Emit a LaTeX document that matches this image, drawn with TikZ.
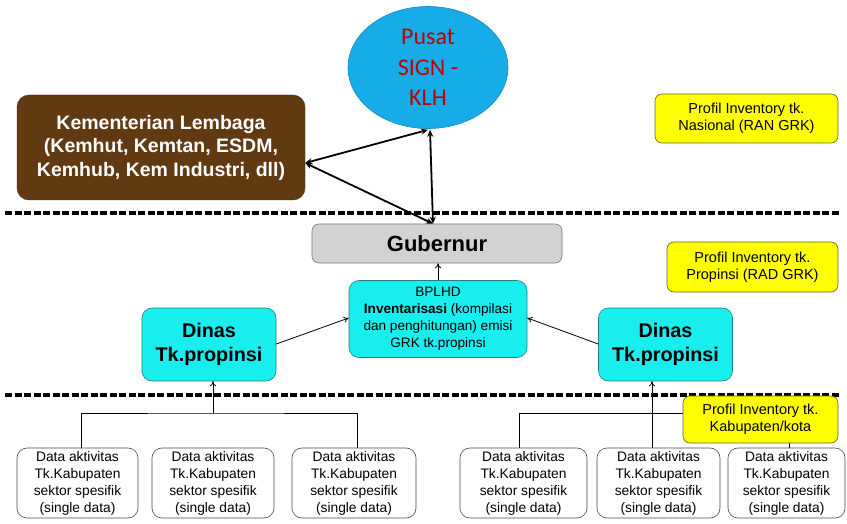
\documentclass[tikz,border=0pt]{standalone}
\usepackage{fontspec}
\setmainfont{Liberation Sans}
\newfontfamily\calibri{Carlito}
\usetikzlibrary{shapes.geometric,arrows.meta}
\definecolor{pusatblue}{RGB}{22,172,232}
\definecolor{pusatred}{RGB}{192,0,0}
\definecolor{kembrown}{RGB}{97,58,18}
\definecolor{cyanfill}{RGB}{24,238,238}
\definecolor{cyanline}{RGB}{40,125,125}
\definecolor{grayfill}{RGB}{210,210,210}
\definecolor{grayline}{RGB}{120,120,120}
\definecolor{yelfill}{RGB}{255,255,0}
\definecolor{yelline}{RGB}{100,100,40}
\begin{document}
\begin{tikzpicture}[x=1pt,y=-1pt,
  every node/.style={inner sep=0pt, align=center},
  pusat/.style={ellipse, fill=pusatblue, draw=pusatblue!80!black, line width=0.6pt, minimum width=160pt, minimum height=122pt, text=pusatred, font=\calibri\fontsize{24}{30.5}\selectfont},
  kembox/.style={rectangle, rounded corners=12pt, fill=kembrown, draw=kembrown!70!black, text=white, font=\bfseries\fontsize{19.5}{23.5}\selectfont},
  gubbox/.style={rectangle, rounded corners=7pt, fill=grayfill, draw=grayline, line width=0.6pt, font=\bfseries\fontsize{22}{26}\selectfont},
  cyanbox/.style={rectangle, rounded corners=10pt, fill=cyanfill, draw=cyanline, line width=0.6pt},
  yelbox/.style={rectangle, rounded corners=7pt, fill=yelfill, draw=yelline, line width=0.6pt, font=\fontsize{14.5}{17}\selectfont},
  databox/.style={rectangle, rounded corners=10pt, fill=white, draw=black!70, line width=0.6pt, minimum height=70pt, font=\fontsize{13.8}{17}\selectfont},
  sep/.style={line width=4.5pt, dash pattern=on 7pt off 2.5pt},
  tri/.style={line width=1.8pt, {Stealth[length=7pt,width=6pt]}-{Stealth[length=7pt,width=6pt]}},
  arr/.style={line width=0.8pt, -{To[length=5pt,width=6pt]}},
  con/.style={line width=0.8pt}
]
\useasboundingbox (0,0) rectangle (847,524);
\fill[white] (0,0) rectangle (847,524);

% separators
\draw[sep] (5,213) -- (840,213);
\draw[sep] (5,395) -- (840,395);

% top level
\node[pusat] (pusat) at (428,67.5) {Pusat\\SIGN -\\KLH};
\node[kembox, minimum width=288pt, minimum height=105pt] (kem) at (161,147.5)
  {Kementerian Lembaga\\(Kemhut, Kemtan, ESDM,\\Kemhub, Kem Industri, dll)};
\node[yelbox, minimum width=183pt, minimum height=49pt] (yel1) at (746.5,118.5)
  {Profil Inventory tk.\\Nasional (RAN GRK)};

% province level
\node[gubbox, minimum width=250pt, minimum height=39pt] (gub) at (437,243.5) {Gubernur};
\node[cyanbox, minimum width=178pt, minimum height=77pt, font=\fontsize{13.6}{17}\selectfont] (bplhd) at (438,319)
  {BPLHD\\\textbf{Inventarisasi} (kompilasi\\dan penghitungan) emisi\\GRK tk.propinsi};
\node[cyanbox, minimum width=134pt, minimum height=73pt, font=\bfseries\fontsize{19.8}{24}\selectfont] (dinasL) at (209,344.5)
  {Dinas\\Tk.propinsi};
\node[cyanbox, minimum width=134pt, minimum height=73pt, font=\bfseries\fontsize{19.8}{24}\selectfont] (dinasR) at (665.5,344.5)
  {Dinas\\Tk.propinsi};
\node[yelbox, minimum width=171pt, minimum height=50pt] (yel2) at (752.5,267)
  {Profil Inventory tk.\\Propinsi (RAD GRK)};

% district level
\node[databox, minimum width=121pt] (d1) at (77.5,483) {Data aktivitas\\Tk.Kabupaten\\sektor spesifik\\(single data)};
\node[databox, minimum width=122pt] (d2) at (213,483) {Data aktivitas\\Tk.Kabupaten\\sektor spesifik\\(single data)};
\node[databox, minimum width=124pt] (d3) at (354,483) {Data aktivitas\\Tk.Kabupaten\\sektor spesifik\\(single data)};
\node[databox, minimum width=127pt] (d4) at (523.5,483) {Data aktivitas\\Tk.Kabupaten\\sektor spesifik\\(single data)};
\node[databox, minimum width=123pt] (d5) at (658.5,483) {Data aktivitas\\Tk.Kabupaten\\sektor spesifik\\(single data)};
\node[databox, minimum width=117pt] (d6) at (786.5,483) {Data aktivitas\\Tk.Kabupaten\\sektor spesifik\\(single data)};

% triangle of double arrows
\coordinate (kemR) at ([yshift=-15.5pt]kem.east);
\coordinate (pusB) at ([yshift=-1pt]pusat.south);
\coordinate (gubT) at ([xshift=-4pt]gub.north);
\draw[tri] (kemR) -- (pusB);
\draw[tri] (kemR) -- (gubT);
\draw[tri] ([xshift=2pt]pusB) -- (gubT);

% province arrows
\draw[arr] (bplhd.north) -- (bplhd.north |- gub.south);
\draw[arr] ([yshift=0.5pt]dinasL.east) -- ([yshift=1pt]bplhd.west);
\draw[arr] ([yshift=0.5pt]dinasR.west) -- ([yshift=1pt]bplhd.east);

% left district tree
\coordinate (hl) at (213,413);
\draw[con] ([xshift=3.5pt]d1.north) |- (hl) -| ([xshift=3pt]d3.north);
\draw[arr] (hl) -- (hl |- dinasL.south);

% right district tree
\coordinate (hr) at (519,413);
\draw[con] ([xshift=-4.5pt]d4.north) |- (hr) -| ([xshift=2.5pt]d6.north);
\coordinate (up5) at ([xshift=-6.5pt]d5.north);
\draw[arr] (up5) -- (up5 |- dinasR.south);

\node[yelbox, minimum width=155pt, minimum height=47pt] (yel3) at (760.5,419.5)
  {Profil Inventory tk.\\Kabupaten/kota};
\end{tikzpicture}
\end{document}
